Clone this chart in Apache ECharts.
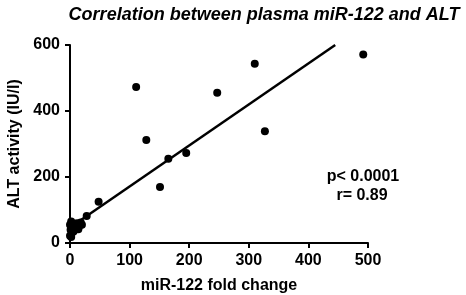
<!DOCTYPE html>
<html>
<head>
<meta charset="utf-8">
<script src="https://cdn.jsdelivr.net/npm/echarts@6/dist/echarts.min.js"></script>
<style>html,body{margin:0;padding:0;background:#fff}#c{width:466px;height:295px}</style>
</head>
<body>
<div id="c"></div>
<script>
var titleText = 'Correlation between plasma miR-122 and ALT';
var xName = 'miR-122 fold change';
var yName = 'ALT activity (IU/l)';
var foldChange = [492, 310, 111, 247, 128, 327, 195, 165, 151, 48, 28, 20, 15, 12, 8, 5, 2, 0, 1, 3, 0, 2, 10, 6, 14, 18];
var altActivity = [571, 543, 473, 455, 312, 339, 273, 255, 170, 125, 82, 55, 50, 60, 58, 48, 65, 55, 40, 30, 22, 18, 45, 35, 42, 62];
var fitX = [0, 445];
var fitY = [47, 600];
var statsLines = ['p< 0.0001', 'r= 0.89'];

var pts = foldChange.map(function (x, i) { return [x, altActivity[i]]; });
var fit = fitX.map(function (x, i) { return [x, fitY[i]]; });
var FONT = '"Liberation Sans", Arial, sans-serif';

var chart = echarts.init(document.getElementById('c'), null, {renderer: 'canvas'});
chart.setOption({
  animation: false,
  backgroundColor: '#fff',
  title: {
    text: titleText, left: 259, top: 1, textAlign: 'center',
    textStyle: {fontFamily: FONT, fontSize: 18, fontWeight: 'bold', fontStyle: 'italic', color: '#000'}
  },
  grid: {left: 70, right: 98, top: 45, bottom: 52, containLabel: false, outerBoundsMode: 'none'},
  xAxis: {
    type: 'value', min: 0, max: 500, interval: 100,
    name: xName, nameLocation: 'middle', nameGap: 35,
    nameTextStyle: {fontFamily: FONT, fontSize: 16, fontWeight: 'bold', color: '#000'},
    axisLine: {show: true, onZero: false, lineStyle: {color: '#000', width: 2}},
    axisTick: {show: true, length: 5, lineStyle: {color: '#000', width: 2}},
    axisLabel: {fontFamily: FONT, fontSize: 16, fontWeight: 'bold', color: '#000', margin: 10},
    splitLine: {show: false}
  },
  yAxis: {
    type: 'value', min: 0, max: 600, interval: 200,
    name: yName, nameLocation: 'middle', nameGap: 43,
    nameTextStyle: {fontFamily: FONT, fontSize: 16, fontWeight: 'bold', color: '#000'},
    axisLine: {show: true, onZero: false, lineStyle: {color: '#000', width: 2}},
    axisTick: {show: true, length: 5, lineStyle: {color: '#000', width: 2}},
    axisLabel: {fontFamily: FONT, fontSize: 16, fontWeight: 'bold', color: '#000', margin: 10},
    splitLine: {show: false}
  },
  series: [
    {type: 'line', data: fit, showSymbol: false, symbol: 'none', lineStyle: {color: '#000', width: 2.5}, z: 3},
    {type: 'scatter', data: pts, symbol: 'circle', symbolSize: 8, itemStyle: {color: '#000', opacity: 1}, z: 4}
  ],
  graphic: [
    {type: 'text', x: 363, y: 177, style: {text: statsLines[0], fontFamily: FONT, fontSize: 16, fontWeight: 'bold', fill: '#000', align: 'center', verticalAlign: 'middle'}},
    {type: 'text', x: 362, y: 196, style: {text: statsLines[1], fontFamily: FONT, fontSize: 16, fontWeight: 'bold', fill: '#000', align: 'center', verticalAlign: 'middle'}}
  ]
});
</script>
</body>
</html>
